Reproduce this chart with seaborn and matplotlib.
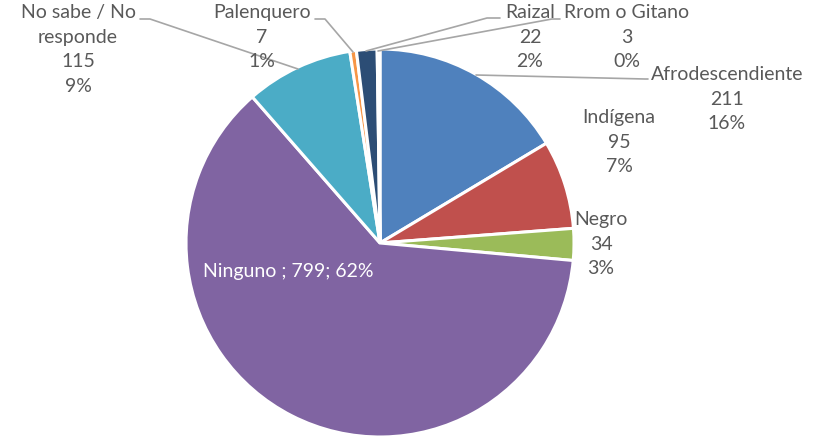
import matplotlib
matplotlib.use("Agg")
import matplotlib.pyplot as plt
import seaborn as sns

# data
categorias = ["Afrodescendiente", "Indígena", "Negro", "Ninguno", "No sabe / No\nresponde",
              "Palenquero", "Raizal", "Rrom o Gitano"]
valores = [211, 95, 34, 799, 115, 7, 22, 3]
colores = ["#4F81BD", "#C0504D", "#9BBB59", "#8064A2", "#4BACC6", "#F79646", "#2C4D75", "#772C2A"]

sns.set_theme(style="white")
plt.rcParams['font.family'] = ['Lato', 'DejaVu Sans']

W, H = 821, 439
fig = plt.figure(figsize=(W / 100, H / 100), dpi=100)
ax = fig.add_axes([0, 0, 1, 1])

cx, cy, r = 380, H - 244, 194
pal = sns.color_palette(colores)
ax.pie(valores, colors=pal, startangle=90, counterclock=False,
       center=(cx, cy), radius=r, frame=True,
       wedgeprops=dict(edgecolor="white", linewidth=2.2))
ax.set_xlim(0, W)
ax.set_ylim(0, H)
ax.set_aspect("equal")
ax.axis("off")

total = sum(valores)
gris = "#595959"
linea = "#A6A6A6"

def etiqueta(i, x, y_top):
    pct = round(100 * valores[i] / total)
    txt = f"{categorias[i]}\n{valores[i]}\n{pct}%"
    ax.text(x, H - y_top, txt, ha="center", va="top", fontsize=14, color=gris,
            linespacing=1.55)

# label positions (pixels from top)
etiqueta(0, 727, 66)
etiqueta(1, 619, 109)
etiqueta(2, 601, 211)
etiqueta(4, 78, 4)
etiqueta(5, 262, 4)
etiqueta(6, 530, 4)
etiqueta(7, 627, 4)

pct_ning = round(100 * valores[3] / total)
ax.text(288, H - 272, f"{categorias[3]} ; {valores[3]}; {pct_ning}%", ha="center",
        va="center", fontsize=14, color="white")

# leader lines
lineas = [
    [(140, 20), (150, 20), (298, 70)],
    [(315, 20), (325, 20), (353, 53)],
    [(366, 52), (487, 19), (500, 19)],
    [(378, 52), (552, 20), (560, 20)],
    [(476, 76), (645, 80), (648, 80)],
]
for pts in lineas:
    xs = [p[0] for p in pts]
    ys = [H - p[1] for p in pts]
    ax.plot(xs, ys, color=linea, linewidth=1.2)

fig.savefig("out.png", dpi=100)
